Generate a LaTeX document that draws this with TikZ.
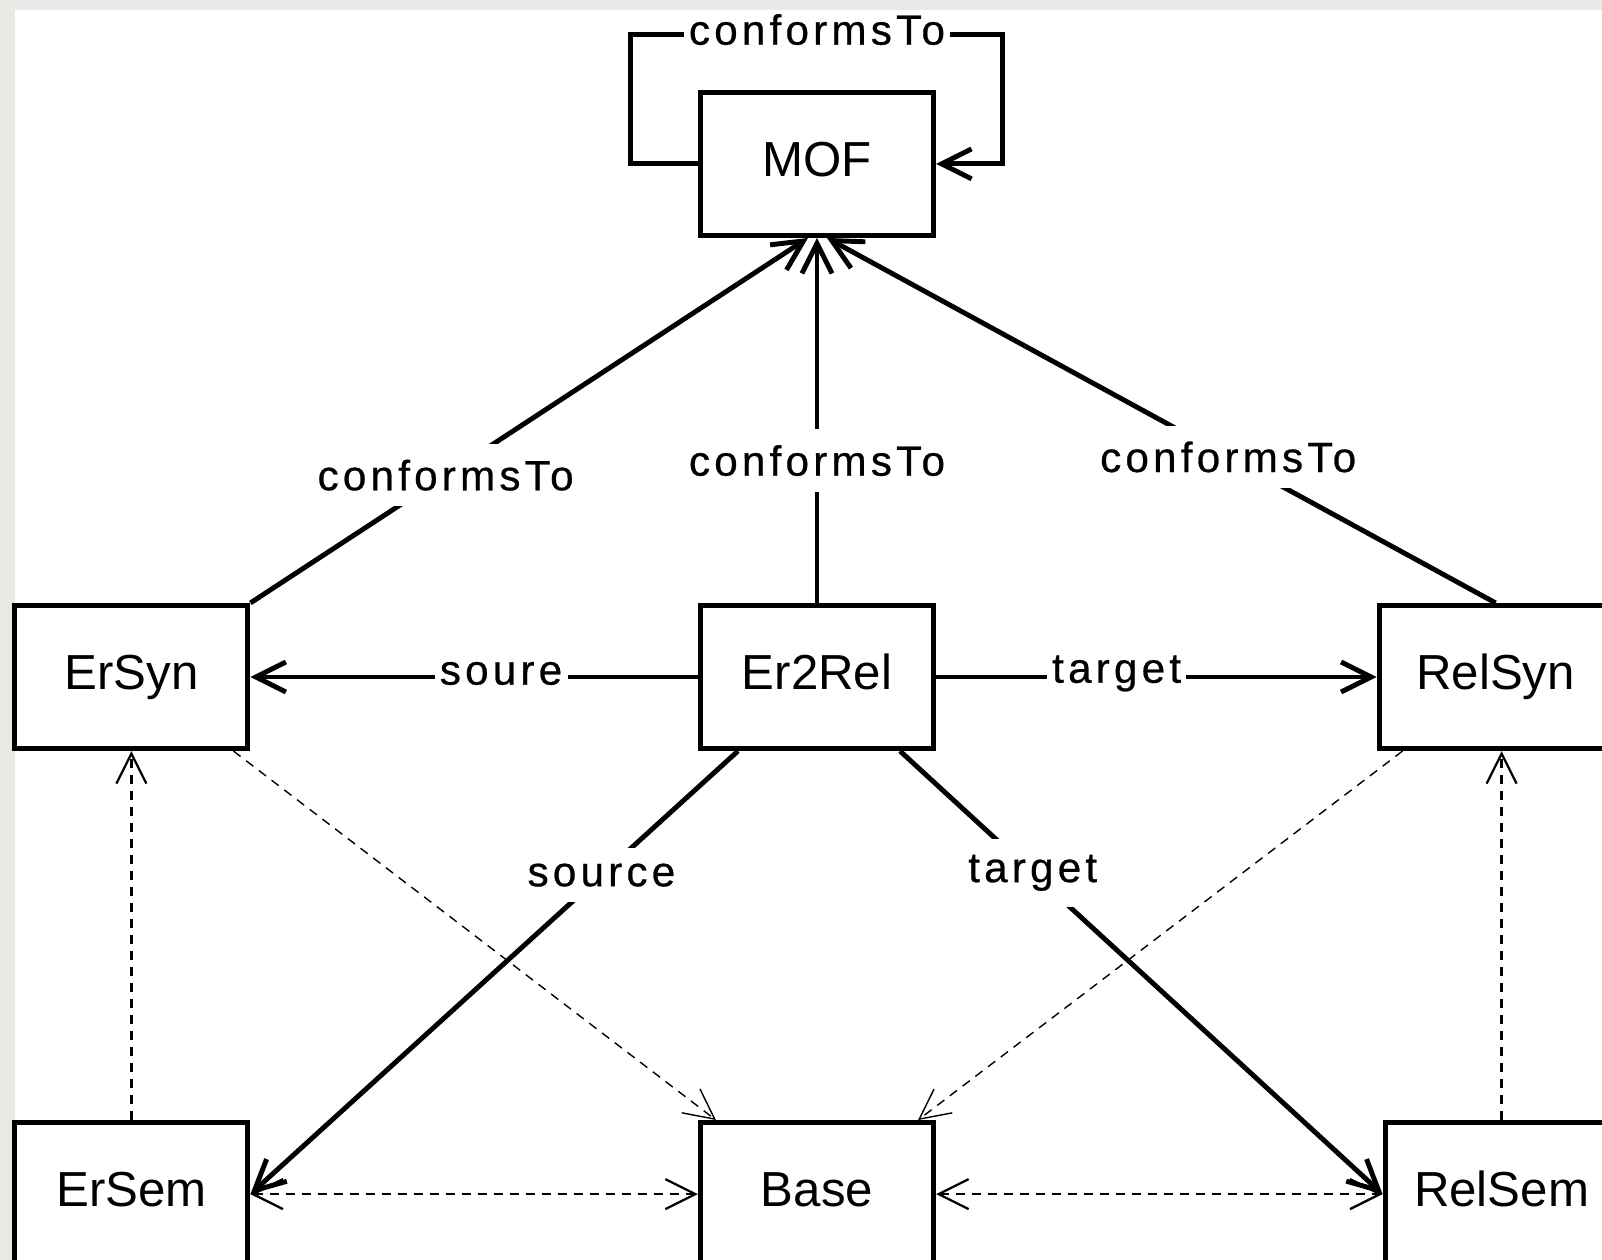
\documentclass[tikz,border=0pt]{standalone}
\usepackage{fontspec}
\setmainfont{Liberation Sans}
\newfontfamily\spacedfont[LetterSpace=10,FakeBold=0.6]{Liberation Sans}
\usepackage{xcolor}
\usepackage{tikz}
\usetikzlibrary{arrows.meta,positioning}
\definecolor{pagegray}{HTML}{E9E9E6}
\newcommand{\boxfont}{\fontsize{28}{34}\selectfont}
\newcommand{\lblfont}{\spacedfont\fontsize{24}{28}\selectfont}

\begin{document}
\begin{tikzpicture}[>={Straight Barb[length=0.6cm,width=0.6cm]},
box/.style={draw,line width=2.9pt,minimum width=4.66cm,minimum height=2.86cm,
  text height=0.72cm,text depth=0.22cm,font=\boxfont},
conn/.style={->,line width=2.8pt},
dep/.style={->,line width=1.3pt,dash pattern=on 0.18cm off 0.14cm},
lbl/.style={fill=white,inner xsep=3pt,inner ysep=9pt,font=\lblfont}]
% page
\useasboundingbox (-16.34,-11.66) rectangle (15.7,13.54);
\fill[pagegray] (-16.34,-11.66) rectangle (15.7,13.54);
\fill[white] (-16.04,-11.66) rectangle (15.7,13.34);

\node[box] (er2rel) {Er2Rel};
\node[box,above=7.30cm of er2rel] (mof) {MOF};
\node[box,left=8.95cm of er2rel] (ersyn) {ErSyn};
\node[box,right=8.81cm of er2rel] (relsyn) {RelSyn};
\node[box,below=7.38cm of er2rel] (base) {Base};
\node[box,below=7.38cm of ersyn] (ersem) {ErSem};
\node[box,below=7.38cm of relsyn,xshift=0.12cm] (relsem) {RelSem};

% metamodel conformance
\draw[conn] (mof.west) -- ++(-1.34,0) -- ++(0,2.58)
  -- node[lbl,inner ysep=0pt,yshift=3pt]{conformsTo} ++(7.44,0) -- ++(0,-2.58) -- (mof.east);
\draw[conn] (ersyn.north east) -- node[lbl,pos=0.35]{conformsTo} ([xshift=-0.18cm]mof.south);
\draw[conn] (er2rel) -- node[lbl,pos=0.39]{conformsTo} (mof);
\draw[conn] (relsyn.north) -- node[lbl,pos=0.4]{conformsTo} ([xshift=0.2cm]mof.south);

% transformation
\draw[conn] (er2rel) -- node[lbl,pos=0.44,inner ysep=2pt,yshift=2pt]{soure} (ersyn);
\draw[conn] (er2rel) -- node[lbl,pos=0.41,inner ysep=2pt,yshift=2pt]{target} (relsyn);
\draw[conn] ([xshift=0.8cm]er2rel.south west) -- node[lbl,pos=0.28]{source} (ersem.east);
\draw[conn] ([xshift=-0.72cm]er2rel.south east) -- node[lbl,pos=0.275]{target} (relsem.west);

% semantics
\draw[dep] (ersem) -- (ersyn);
\draw[dep] (relsem.north) -- (relsem.north |- relsyn.south);
\draw[dep,line width=0.8pt] ([xshift=-0.34cm]ersyn.south east) -- ([xshift=0.36cm]base.north west);
\draw[dep,line width=0.8pt] ([xshift=0.52cm]relsyn.south west) -- ([xshift=-0.36cm]base.north east);
\draw[dep,<->] (ersem) -- (base);
\draw[dep,<->] (base) -- (relsem);
\end{tikzpicture}
\end{document}
